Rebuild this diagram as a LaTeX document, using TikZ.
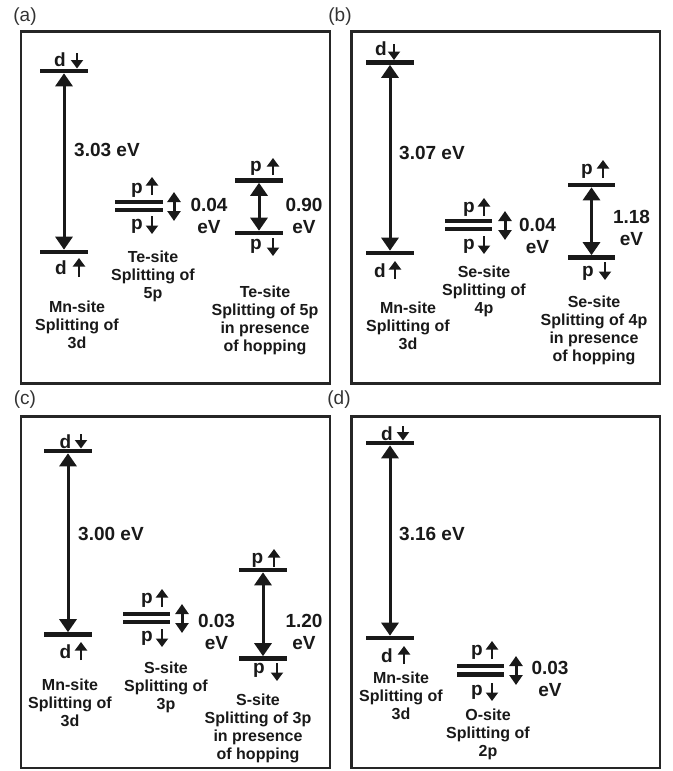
\documentclass[tikz,border=0pt]{standalone}
\usepackage{fontspec}
\setmainfont{Liberation Sans}
\usetikzlibrary{arrows.meta}
\tikzset{
 levelbar/.style={line width=4.6pt},
 gaparrow/.style={line width=3pt, {Triangle[width=17pt,length=13pt]}-{Triangle[width=17pt,length=13pt]}},
 smallgap/.style={line width=3pt, {Triangle[width=13pt,length=10pt]}-{Triangle[width=13pt,length=10pt]}},
 spinarr/.style={line width=1.9pt, -{Triangle[width=12pt,length=8.5pt]}},
 frame/.style={line width=2.8pt, draw=black!85},
 lbl/.style={font=\fontsize{16}{18}\selectfont\bfseries, align=center, inner sep=0pt, anchor=north},
 num/.style={font=\fontsize{19}{21.5}\selectfont\bfseries, align=center, inner sep=0pt, anchor=north},
 val/.style={font=\fontsize{19}{21.5}\selectfont\bfseries, inner sep=0pt, anchor=base west},
 spinl/.style={font=\fontsize{19}{21.5}\selectfont\bfseries, inner sep=0pt, anchor=base},
 plabel/.style={font=\fontsize{19}{21}\selectfont, inner sep=0pt, text=black!80},
}
\newcommand\lvl[4]{%
 \coordinate (#1-l) at (#2,#4);
 \coordinate (#1-r) at (#3,#4);
 \coordinate (#1) at ({(#2+#3)/2},#4);
 \draw[levelbar] (#1-l) -- (#1-r);}
\begin{document}
\begin{tikzpicture}[x=1pt,y=-1pt,color=black!90]
\useasboundingbox (0,0) rectangle (672,771);

% ---------------- (a)
\draw[frame] (21,31.5) rectangle (330,383.5);
\node[plabel] (la) at (25,17) {(a)};
\lvl{aTop}{40}{88}{71}
\lvl{aBot}{40}{88}{252}
\draw[gaparrow] ([yshift=-2.3pt]aTop) -- ([yshift=2.3pt]aBot);
\node[val] (aE) at (74,156) {3.03 eV};
\node[spinl] (aTd) at (60,66) {d};
\draw[spinarr] (77,53) -- (77,68.5);
\node[spinl] (aBd) at (61,274) {d};
\draw[spinarr] (79,277) -- (79,258);
\lvl{aP1}{115}{163}{202}
\lvl{aP2}{115}{163}{210}
\node[spinl] (aPu) at (137,193) {p};
\draw[spinarr] (152,195) -- (152,177);
\node[spinl] (aPd) at (137,229) {p};
\draw[spinarr] (152,216) -- (152,234);
\draw[smallgap] (174,192) -- (174,221);
\node[num] (aS) at (209,198.4) {0.04\\eV};
\node[lbl] (aTe) at (153,250.3) {Te-site\\Splitting of\\5p};
\lvl{aH1}{235}{283}{180.5}
\lvl{aH2}{235}{283}{233}
\draw[gaparrow] ([yshift=-2.3pt]aH1) -- ([yshift=2.3pt]aH2);
\node[spinl] (aHu) at (256,171) {p};
\draw[spinarr] (273,175) -- (273,158);
\node[spinl] (aHd) at (256,249) {p};
\draw[spinarr] (273,238) -- (273,256);
\node[num] (aHS) at (304,198.4) {0.90\\eV};
\node[lbl] (aHT) at (265,285.3) {Te-site\\Splitting of 5p\\in presence\\of hopping};
\node[lbl] (aMn) at (77,300.3) {Mn-site\\Splitting of\\3d};

% ---------------- (b)
\draw[frame] (351.5,31.5) rectangle (660,383.5);
\node[plabel] (lb) at (340,17) {(b)};
\lvl{bTop}{366}{414}{62.5}
\lvl{bBot}{366}{414}{253}
\draw[gaparrow] ([yshift=-2.3pt]bTop) -- ([yshift=2.3pt]bBot);
\node[val] (bE) at (399,159) {3.07 eV};
\node[spinl] (bTd) at (381,55) {d};
\draw[spinarr] (394,44) -- (394,60);
\node[spinl] (bBd) at (380,277) {d};
\draw[spinarr] (395,279) -- (395,261);
\lvl{bP1}{445}{492}{221}
\lvl{bP2}{445}{492}{229}
\node[spinl] (bPu) at (469,212) {p};
\draw[spinarr] (484,216) -- (484,198);
\node[spinl] (bPd) at (469,249) {p};
\draw[spinarr] (484,236) -- (484,254);
\draw[smallgap] (505,211) -- (505,240);
\node[num] (bS) at (537.5,218.4) {0.04\\eV};
\node[lbl] (bSe) at (484,265.3) {Se-site\\Splitting of\\4p};
\lvl{bH1}{568}{615}{185}
\lvl{bH2}{568}{615}{257.5}
\draw[gaparrow] ([yshift=-2.3pt]bH1) -- ([yshift=2.3pt]bH2);
\node[spinl] (bHu) at (587,174) {p};
\draw[spinarr] (603,178) -- (603,160);
\node[spinl] (bHd) at (588,276) {p};
\draw[spinarr] (605,262) -- (605,280);
\node[num] (bHS) at (631.5,210.4) {1.18\\eV};
\node[lbl] (bHT) at (594,295.3) {Se-site\\Splitting of 4p\\in presence\\of hopping};
\node[lbl] (bMn) at (408,301.3) {Mn-site\\Splitting of\\3d};

% ---------------- (c)
\draw[frame] (21,416.5) rectangle (330,768);
\node[plabel] (lc) at (25,400) {(c)};
\lvl{cTop}{44}{92}{451}
\lvl{cBot}{44}{92}{634.5}
\draw[gaparrow] ([yshift=-2.3pt]cTop) -- ([yshift=2.3pt]cBot);
\node[val] (cE) at (78,540) {3.00 eV};
\node[spinl] (cTd) at (65.5,448) {d};
\draw[spinarr] (81,434) -- (81,448.5);
\node[spinl] (cBd) at (65.5,658) {d};
\draw[spinarr] (81,660) -- (81,642);
\lvl{cP1}{123}{170}{614}
\lvl{cP2}{123}{170}{622}
\node[spinl] (cPu) at (147,603.5) {p};
\draw[spinarr] (162,607) -- (162,589);
\node[spinl] (cPd) at (147,641.5) {p};
\draw[spinarr] (162,629) -- (162,647);
\draw[smallgap] (182,604) -- (182,633);
\node[num] (cS) at (216.5,614.4) {0.03\\eV};
\node[lbl] (cSs) at (166,661.3) {S-site\\Splitting of\\3p};
\lvl{cH1}{239}{287}{570}
\lvl{cH2}{239}{287}{658.5}
\draw[gaparrow] ([yshift=-2.3pt]cH1) -- ([yshift=2.3pt]cH2);
\node[spinl] (cHu) at (257.5,563.5) {p};
\draw[spinarr] (274,567) -- (274,549);
\node[spinl] (cHd) at (259,673.5) {p};
\draw[spinarr] (277,663) -- (277,681);
\node[num] (cHS) at (304,614.4) {1.20\\eV};
\node[lbl] (cHT) at (258,693.3) {S-site\\Splitting of 3p\\in presence\\of hopping};
\node[lbl] (cMn) at (70,678.3) {Mn-site\\Splitting of\\3d};

% ---------------- (d)
\draw[frame] (351.5,416.5) rectangle (660,768);
\node[plabel] (ld) at (339,400) {(d)};
\lvl{dTop}{366}{414}{443}
\lvl{dBot}{366}{414}{638}
\draw[gaparrow] ([yshift=-2.3pt]dTop) -- ([yshift=2.3pt]dBot);
\node[val] (dE) at (399,540) {3.16 eV};
\node[spinl] (dTd) at (387,440) {d};
\draw[spinarr] (403,426) -- (403,440.5);
\node[spinl] (dBd) at (387,662) {d};
\draw[spinarr] (404,664) -- (404,646);
\lvl{dP1}{457}{504}{666}
\lvl{dP2}{457}{504}{674.5}
\node[spinl] (dPu) at (477,655) {p};
\draw[spinarr] (492,659) -- (492,641);
\node[spinl] (dPd) at (477,695.5) {p};
\draw[spinarr] (492,683) -- (492,701);
\draw[smallgap] (516,656) -- (516,685);
\node[num] (dS) at (550,661.4) {0.03\\eV};
\node[lbl] (dOs) at (488,708.3) {O-site\\Splitting of\\2p};
\node[lbl] (dMn) at (401,671.3) {Mn-site\\Splitting of\\3d};
\end{tikzpicture}
\end{document}
